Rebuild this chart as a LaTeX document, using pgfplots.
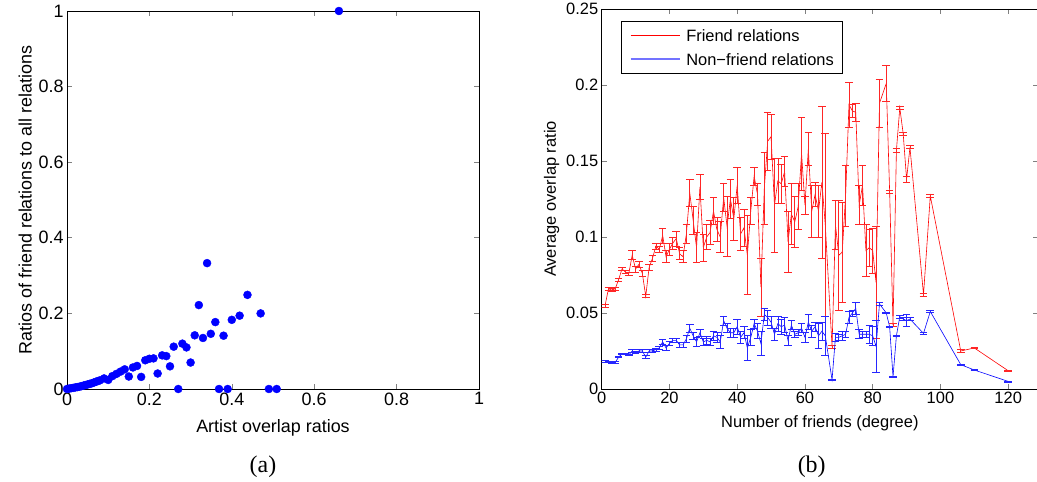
\documentclass[border=0pt]{standalone}
\usepackage{fontspec}
\setmainfont{Liberation Serif}
\setsansfont{Liberation Sans}
\usepackage{pgfplots}
\pgfplotsset{compat=1.18}
\usepackage{pgfplotstable}

\pgfplotsset{
  rederr/.style={/pgfplots/error bars/draw error bar/.code 2 args={\draw[draw=red!85!white, line width=0.7pt] ##1 -- ##2 ++(-3.8bp,0pt) -- ++(7.6bp,0pt);}},
  blueerr/.style={/pgfplots/error bars/draw error bar/.code 2 args={\draw[draw=blue!85!white, line width=0.7pt] ##1 -- ##2 ++(-3.8bp,0pt) -- ++(7.6bp,0pt);}},
}

\pgfplotstableread{
x y
0 0
0.005 0.001
0.01 0.002
0.015 0.003
0.02 0.004
0.025 0.005
0.03 0.006
0.035 0.0075
0.04 0.009
0.045 0.0105
0.05 0.012
0.055 0.0135
0.06 0.015
0.065 0.017
0.07 0.019
0.075 0.021
0.08 0.023
0.09 0.028
0.10 0.024
0.11 0.034
0.12 0.040
0.13 0.046
0.14 0.052
0.15 0.033
0.16 0.057
0.17 0.061
0.18 0.032
0.19 0.076
0.20 0.080
0.21 0.081
0.22 0.041
0.231 0.089
0.241 0.087
0.25 0.060
0.259 0.112
0.27 0.0
0.28 0.120
0.29 0.110
0.30 0.070
0.31 0.142
0.32 0.222
0.33 0.135
0.34 0.333
0.349 0.146
0.36 0.177
0.369 0.0
0.38 0.141
0.39 0.0
0.40 0.183
0.419 0.194
0.438 0.249
0.47 0.200
0.49 0.0
0.509 0.0
0.66 1.0
}\scatterdata

\pgfplotstableread{
d v e
1 0.055 0.001
2 0.066 0.001
3 0.065 0.001
4 0.066 0.001
5 0.072 0.001
6 0.079 0.001
7 0.077 0.001
8 0.076 0.001
9 0.088 0.003
10 0.079 0.002
11 0.082 0.002
12 0.076 0.002
13 0.061 0.001
14 0.080 0.002
15 0.086 0.002
16 0.094 0.002
17 0.092 0.002
18 0.101 0.005
19 0.087 0.004
20 0.092 0.004
21 0.096 0.004
22 0.099 0.005
23 0.089 0.004
24 0.087 0.004
25 0.102 0.006
26 0.129 0.009
27 0.111 0.009
28 0.093 0.010
29 0.133 0.008
30 0.093 0.009
31 0.100 0.008
32 0.103 0.008
33 0.117 0.009
34 0.105 0.008
35 0.100 0.010
36 0.126 0.009
37 0.107 0.020
38 0.125 0.013
39 0.112 0.014
40 0.134 0.012
41 0.102 0.011
42 0.106 0.012
43 0.088 0.026
44 0.117 0.009
45 0.140 0.006
46 0.128 0.007
47 0.067 0.019
48 0.132 0.024
49 0.163 0.019
50 0.166 0.015
51 0.121 0.031
52 0.137 0.015
53 0.135 0.013
54 0.143 0.010
55 0.097 0.020
56 0.115 0.020
57 0.110 0.017
58 0.120 0.015
59 0.155 0.024
60 0.121 0.006
61 0.158 0.011
62 0.117 0.017
63 0.128 0.008
64 0.117 0.017
65 0.136 0.050
66 0.108 0.060
68 0.028 0.001
69 0.108 0.016
70 0.088 0.036
71 0.090 0.033
72 0.127 0.020
73 0.187 0.015
74 0.183 0.004
75 0.182 0.006
76 0.121 0.013
77 0.134 0.013
78 0.091 0.017
79 0.093 0.012
80 0.091 0.015
81 0.070 0.037
82 0.188 0.016
84 0.201 0.012
85 0.130 0.001
86 0.042 0.001
87 0.157 0.001
88 0.185 0.001
89 0.168 0.001
90 0.138 0.002
91 0.159 0.001
95 0.062 0.001
97 0.127 0.001
106 0.025 0.001
110 0.027 0.0005
120 0.012 0.0005
}\frienddata

\pgfplotstableread{
d v e
1 0.0183 0.0005
2 0.0180 0.0005
3 0.0172 0.0005
4 0.0175 0.0005
5 0.0210 0.0005
6 0.0230 0.0005
7 0.0230 0.0005
8 0.0225 0.0005
9 0.0250 0.0008
10 0.0240 0.0008
11 0.0250 0.0008
12 0.0250 0.0008
13 0.0210 0.0010
14 0.0250 0.0008
15 0.0250 0.0008
16 0.0260 0.0010
17 0.0270 0.0010
18 0.0310 0.0015
19 0.0270 0.0015
20 0.0300 0.0015
21 0.0320 0.0015
22 0.0320 0.0015
23 0.0290 0.0015
24 0.0290 0.0015
25 0.0330 0.0020
26 0.0400 0.0025
27 0.0350 0.0025
28 0.0310 0.0030
29 0.0370 0.0025
30 0.0310 0.0025
31 0.0320 0.0025
32 0.0310 0.0025
33 0.0350 0.0030
34 0.0340 0.0030
35 0.0310 0.0040
36 0.0450 0.0030
37 0.0400 0.0030
38 0.0370 0.0030
39 0.0370 0.0030
40 0.0410 0.0050
41 0.0340 0.0040
42 0.0370 0.0040
43 0.0270 0.0080
44 0.0340 0.0050
45 0.0430 0.0030
46 0.0380 0.0050
47 0.0300 0.0080
48 0.0490 0.0040
49 0.0470 0.0050
50 0.0440 0.0040
51 0.0360 0.0040
52 0.0430 0.0050
53 0.0410 0.0050
54 0.0420 0.0050
55 0.0320 0.0030
56 0.0420 0.0030
57 0.0360 0.0020
58 0.0370 0.0020
59 0.0400 0.0030
60 0.0340 0.0030
61 0.0440 0.0050
62 0.0380 0.0040
63 0.0410 0.0030
64 0.0350 0.0080
65 0.0380 0.0060
66 0.0350 0.0130
68 0.0060 0.0005
69 0.0340 0.0025
70 0.0340 0.0020
71 0.0350 0.0030
72 0.0360 0.0020
73 0.0470 0.0040
74 0.0500 0.0020
75 0.0530 0.0040
76 0.0360 0.0030
77 0.0360 0.0020
78 0.0360 0.0020
79 0.0360 0.0060
80 0.0350 0.0060
81 0.0280 0.0170
82 0.0560 0.0010
84 0.0500 0.0005
85 0.0410 0.0005
86 0.0080 0.0005
87 0.0350 0.0005
88 0.0476 0.0010
89 0.0460 0.0010
90 0.0450 0.0040
91 0.0460 0.0010
95 0.0366 0.0005
97 0.0510 0.0005
106 0.0160 0.0005
110 0.0125 0.0005
120 0.0050 0.0003
}\nonfrienddata

\begin{document}
\begin{tikzpicture}
\path[use as bounding box] (0bp,0bp) rectangle (1037bp,482bp);
\pgfplotsset{
  mstyle/.style={
    scale only axis,
    anchor=south west,
    tick align=inside,
    major tick length=5bp,
    axis line style={line width=0.8pt},
    tick style={line width=0.6pt},
    scaled ticks=false,
    /pgf/number format/assume math mode=true,
  }
}
\begin{axis}[mstyle,
  at={(67bp,93bp)}, width=412bp, height=378bp,
  xmin=0, xmax=1, ymin=0, ymax=1,
  xtick={0,0.2,0.4,0.6,0.8,1}, xticklabels={0,0.2,0.4,0.6,0.8,1},
  ytick={0,0.2,0.4,0.6,0.8,1}, yticklabels={0,0.2,0.4,0.6,0.8,1},
  tick label style={font=\sffamily\fontsize{18}{20}\selectfont},
  label style={font=\sffamily\fontsize{18}{20}\selectfont},
  xlabel={Artist overlap ratios},
  xlabel style={yshift=-7bp},
  ylabel={Ratios of friend relations to all relations},
  clip=false,
]
\addplot[only marks, mark=*, mark size=4bp, color=blue, mark options={draw=blue, fill=blue}] table[x=x,y=y] {\scatterdata};
\end{axis}

\begin{axis}[mstyle,
  at={(601.7bp,93bp)}, width=436.3bp, height=380bp,
  xmin=0, xmax=128.8, ymin=0, ymax=0.25,
  xtick={0,20,40,60,80,100,120}, xticklabels={0,20,40,60,80,100,120},
  ytick={0,0.05,0.1,0.15,0.2,0.25}, yticklabels={0,0.05,0.1,0.15,0.2,0.25},
  tick label style={font=\sffamily\fontsize{16.5}{19}\selectfont},
  label style={font=\sffamily\fontsize{16.5}{19}\selectfont},
  xlabel={Number of friends (degree)},
  xlabel style={yshift=-5bp},
  ylabel={Average overlap ratio},
  legend style={at={(0.0435,0.969)}, anchor=north west, draw=black, line width=0.8pt,
    font=\sffamily\fontsize{16.5}{19}\selectfont, inner xsep=9bp, inner ysep=8bp,
    nodes={inner sep=0bp, text depth=0bp}, row sep=12bp, column sep=6bp},
  legend cell align=left,
]
\addlegendimage{legend image code/.code={\draw[red, line width=0.6pt] (0bp,0bp) -- (49bp,0bp);}}
\addlegendentry{Friend relations}
\addlegendimage{legend image code/.code={\draw[blue!55, line width=1.2pt] (0bp,0bp) -- (49bp,0bp);}}
\addlegendentry{Non−friend relations}

\addplot[color=red, line width=0.6pt, no marks, forget plot, rederr,
  error bars/.cd, y dir=both, y explicit]
  table[x=d, y=v, y error=e] {\frienddata};
\addplot[color=blue, line width=0.6pt, no marks, forget plot, blueerr,
  error bars/.cd, y dir=both, y explicit]
  table[x=d, y=v, y error=e] {\nonfrienddata};
\end{axis}

\node[font=\fontsize{24}{28}\selectfont] at (263bp,15bp) {(a)};
\node[font=\fontsize{24}{28}\selectfont] at (811.7bp,15bp) {(b)};
\end{tikzpicture}
\end{document}
